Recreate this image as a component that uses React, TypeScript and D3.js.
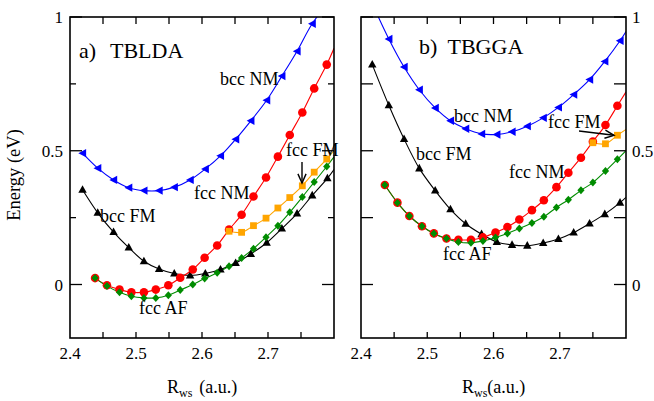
import React from 'react';
import * as d3 from 'd3';

const W = 654;
const H = 401;
const FONT = "'Liberation Serif', 'Times New Roman', serif";

// ---------- shared axis data ----------
const R_DOMAIN = [2.4, 2.8];
const E_DOMAIN = [-0.2, 1];
const R_END = 2.8;
const xTickLabels = [2.4, 2.5, 2.6, 2.7];
const xTickAll = [2.45, 2.5, 2.55, 2.6, 2.65, 2.7, 2.75];
const yTickMajor = [0, 0.5, 1];
const yTickMinor = [0.25, 0.75];
const yTickLabels = ['0', '0.5', '1'];

// ---------- a) TBLDA ----------
const ldaBccR = [2.419, 2.442, 2.466, 2.489, 2.512, 2.535, 2.558, 2.582, 2.605, 2.628, 2.651, 2.674, 2.698, 2.721, 2.744, 2.767, 2.790];
const ldaBccNM = [0.491, 0.435, 0.391, 0.362, 0.351, 0.351, 0.364, 0.391, 0.432, 0.481, 0.543, 0.612, 0.689, 0.779, 0.872, 0.975];
const ldaBccFM = [0.354, 0.268, 0.196, 0.138, 0.087, 0.058, 0.041, 0.034, 0.041, 0.056, 0.080, 0.114, 0.156, 0.209, 0.265, 0.333, 0.397];
const ldaFccR = [2.438, 2.456, 2.475, 2.493, 2.512, 2.530, 2.549, 2.567, 2.586, 2.604, 2.623, 2.641, 2.660, 2.678, 2.697, 2.715, 2.733, 2.752, 2.770, 2.789];
const ldaFccNM = [0.024, -0.003, -0.019, -0.029, -0.029, -0.019, -0.003, 0.025, 0.056, 0.100, 0.146, 0.205, 0.261, 0.329, 0.400, 0.478, 0.559, 0.643, 0.733, 0.822];
const ldaFccAF = [0.024, -0.006, -0.029, -0.044, -0.050, -0.050, -0.040, -0.021, 0.000, 0.022, 0.044, 0.068, 0.099, 0.134, 0.177, 0.220, 0.270, 0.327, 0.383, 0.441];
const ldaFccFMR = [2.641, 2.660, 2.678, 2.697, 2.715, 2.733, 2.752, 2.770, 2.789];
const ldaFccFM = [0.199, 0.195, 0.220, 0.248, 0.286, 0.325, 0.369, 0.420, 0.469];
// curve values at R_END: bccNM, bccFM, fccNM, fccFM, fccAF
const ldaTailE = [1.08, 0.43, 0.883, 0.5, 0.477];

// ---------- b) TBGGA ----------
const ggaBccR = [2.417, 2.442, 2.465, 2.488, 2.512, 2.535, 2.558, 2.582, 2.605, 2.628, 2.651, 2.675, 2.698, 2.721, 2.745, 2.768, 2.791];
const ggaBccNM = [1.05, 0.918, 0.813, 0.728, 0.660, 0.612, 0.582, 0.563, 0.561, 0.571, 0.592, 0.623, 0.662, 0.710, 0.766, 0.834, 0.911];
const ggaBccFM = [0.822, 0.670, 0.544, 0.434, 0.351, 0.281, 0.227, 0.188, 0.159, 0.148, 0.145, 0.155, 0.170, 0.194, 0.228, 0.263, 0.306];
const ggaFccR = [2.436, 2.455, 2.473, 2.492, 2.510, 2.529, 2.547, 2.566, 2.584, 2.603, 2.621, 2.639, 2.658, 2.676, 2.695, 2.713, 2.732, 2.750, 2.769, 2.787];
const ggaFccNM = [0.372, 0.306, 0.256, 0.218, 0.191, 0.172, 0.167, 0.167, 0.176, 0.194, 0.215, 0.243, 0.278, 0.315, 0.364, 0.418, 0.474, 0.534, 0.596, 0.668];
const ggaFccAF = [0.372, 0.306, 0.256, 0.218, 0.191, 0.172, 0.159, 0.156, 0.163, 0.176, 0.191, 0.209, 0.230, 0.253, 0.288, 0.317, 0.352, 0.381, 0.424, 0.468];
const ggaFccFMR = [2.750, 2.769, 2.787];
const ggaFccFM = [0.530, 0.526, 0.558];
const ggaTailE = [0.946, 0.326, 0.72, 0.58, 0.5];

const COLORS = { bccNM: '#0000ff', bccFM: '#000000', fccNM: '#ff0000', fccFM: '#ffa500', fccAF: '#008c00' };

type Marker = 'left' | 'up' | 'circle' | 'square' | 'diamond';

function markerPath(m: Marker): string | null {
  switch (m) {
    case 'left': return 'M-4.2,0L3.6,-4.2L3.6,4.2Z';
    case 'up': return 'M0,-4.6L4.2,3L-4.2,3Z';
    case 'square': return 'M-3.4,-3.4H3.4V3.4H-3.4Z';
    case 'diamond': return 'M0,-4L3.6,0L0,4L-3.6,0Z';
    default: return null;
  }
}

interface Series { key: string; R: number[]; E: number[]; tail: number; color: string; marker: Marker; }

function buildSeries(bccR: number[], bccNM: number[], bccFM: number[], fccR: number[], fccNM: number[], fccAF: number[], fmR: number[], fm: number[], tail: number[]): Series[] {
  return [
    { key: 'bccNM', R: bccR.slice(0, bccNM.length), E: bccNM, tail: tail[0], color: COLORS.bccNM, marker: 'left' },
    { key: 'bccFM', R: bccR, E: bccFM, tail: tail[1], color: COLORS.bccFM, marker: 'up' },
    { key: 'fccNM', R: fccR, E: fccNM, tail: tail[2], color: COLORS.fccNM, marker: 'circle' },
    { key: 'fccFM', R: fmR, E: fm, tail: tail[3], color: COLORS.fccFM, marker: 'square' },
    { key: 'fccAF', R: fccR, E: fccAF, tail: tail[4], color: COLORS.fccAF, marker: 'diamond' },
  ];
}

const TOP = 17;
const BOTTOM = 338;

interface Label { text: string; x: number; y: number; }

interface PanelProps {
  id: string;
  x0: number;
  x1: number;
  series: Series[];
  title: [string, number, number, number];
  titleName: string;
  labels: Label[];
  arrow: [number, number, number, number];
  yLabelSide: 'left' | 'right';
  minorLen: number;
  xTitleGap: number;
  xTitleX: number;
}

function Arrow({ a }: { a: [number, number, number, number] }) {
  const [x1, y1, x2, y2] = a;
  const ang = Math.atan2(y2 - y1, x2 - x1);
  const L = 10;
  const spread = 0.42;
  const p1 = [x2 - L * Math.cos(ang - spread), y2 - L * Math.sin(ang - spread)];
  const p2 = [x2 - L * Math.cos(ang + spread), y2 - L * Math.sin(ang + spread)];
  return (
    <g stroke="#000" strokeWidth={1.4} fill="none">
      <line x1={x1} y1={y1} x2={x2} y2={y2} />
      <path d={`M${p1[0]},${p1[1]}L${x2},${y2}L${p2[0]},${p2[1]}`} />
    </g>
  );
}

function Panel(p: PanelProps) {
  const x = d3.scaleLinear().domain(R_DOMAIN).range([p.x0, p.x1]);
  const y = d3.scaleLinear().domain(E_DOMAIN).range([BOTTOM, TOP]);
  const line = d3.line<[number, number]>().x(d => x(d[0])).y(d => y(d[1])).curve(d3.curveCatmullRom.alpha(0.5));
  const clipId = `clip-${p.id}`;
  const majorLen = 12;
  return (
    <g>
      <defs>
        <clipPath id={clipId}>
          <rect x={p.x0} y={TOP} width={p.x1 - p.x0} height={BOTTOM - TOP} />
        </clipPath>
      </defs>
      <g clipPath={`url(#${clipId})`}>
        {p.series.map(s => {
          const pts: [number, number][] = s.R.map((r, i) => [r, s.E[i]] as [number, number]);
          pts.push([R_END, s.tail]);
          return <path key={s.key + 'l'} d={line(pts) || ''} fill="none" stroke={s.color} strokeWidth={1.1} />;
        })}
        {p.series.map(s => (
          <g key={s.key + 'm'} fill={s.color}>
            {s.R.map((r, i) => {
              const mp = markerPath(s.marker);
              return mp
                ? <path key={i} d={mp} transform={`translate(${x(r)},${y(s.E[i])})`} />
                : <circle key={i} cx={x(r)} cy={y(s.E[i])} r={4.3} />;
            })}
          </g>
        ))}
      </g>
      <rect x={p.x0} y={TOP} width={p.x1 - p.x0} height={BOTTOM - TOP} fill="none" stroke="#000" strokeWidth={1.6} />
      {xTickAll.map(t => (
        <g key={'xt' + t} stroke="#000" strokeWidth={1.3}>
          <line x1={x(t)} x2={x(t)} y1={TOP} y2={TOP + 7} />
          <line x1={x(t)} x2={x(t)} y1={BOTTOM} y2={BOTTOM - 6} />
        </g>
      ))}
      {xTickLabels.map(t => (
        <text key={'xl' + t} x={x(t)} y={359} textAnchor="middle" fontSize={17} fontFamily={FONT}>{t.toFixed(1)}</text>
      ))}
      {yTickMajor.map(t => (
        <g key={'ytM' + t} stroke="#000" strokeWidth={1.3}>
          <line x1={p.x0} x2={p.x0 + majorLen} y1={y(t)} y2={y(t)} />
          <line x1={p.x1} x2={p.x1 - majorLen} y1={y(t)} y2={y(t)} />
        </g>
      ))}
      {yTickMinor.map(t => (
        <g key={'ytm' + t} stroke="#000" strokeWidth={1.3}>
          <line x1={p.x0} x2={p.x0 + p.minorLen} y1={y(t)} y2={y(t)} />
          <line x1={p.x1} x2={p.x1 - p.minorLen} y1={y(t)} y2={y(t)} />
        </g>
      ))}
      {yTickMajor.map((t, i) => (
        p.yLabelSide === 'left'
          ? <text key={'yl' + t} x={p.x0 - 7} y={y(t) + 6} textAnchor="end" fontSize={17} fontFamily={FONT}>{yTickLabels[i]}</text>
          : <text key={'yl' + t} x={p.x1 + 6} y={y(t) + 6} textAnchor="start" fontSize={17} fontFamily={FONT}>{yTickLabels[i]}</text>
      ))}
      <text x={p.xTitleX} y={393} fontSize={18} fontFamily={FONT}>
        <tspan>R</tspan>
        <tspan fontSize={12} dy={4}>ws</tspan>
        <tspan dy={-4} dx={p.xTitleGap}>(a.u.)</tspan>
      </text>
      <text x={p.title[1]} y={p.title[3]} fontSize={22} fontFamily={FONT}>{p.title[0]}</text>
      <text x={p.title[2]} y={p.title[3]} fontSize={22} fontFamily={FONT}>{p.titleName}</text>
      {p.labels.map(l => (
        <text key={l.text} x={l.x} y={l.y} fontSize={18} fontFamily={FONT}>{l.text}</text>
      ))}
      <Arrow a={p.arrow} />
    </g>
  );
}

export default function App() {
  const lda = buildSeries(ldaBccR, ldaBccNM, ldaBccFM, ldaFccR, ldaFccNM, ldaFccAF, ldaFccFMR, ldaFccFM, ldaTailE);
  const gga = buildSeries(ggaBccR, ggaBccNM, ggaBccFM, ggaFccR, ggaFccNM, ggaFccAF, ggaFccFMR, ggaFccFM, ggaTailE);
  return (
    <svg width={W} height={H} style={{ position: 'absolute', left: 0, top: 0, background: '#fff' }}>
      <rect width={W} height={H} fill="#fff" />
      <text transform="translate(20,175) rotate(-90)" textAnchor="middle" fontSize={18.5} fontFamily={FONT}>Energy (eV)</text>
      <Panel
        id="a" x0={70} x1={334} series={lda}
        title={['a)', 79, 110, 57.5]} titleName="TBLDA"
        labels={[
          { text: 'bcc NM', x: 220, y: 85 },
          { text: 'fcc NM', x: 194, y: 199 },
          { text: 'bcc FM', x: 100, y: 222 },
          { text: 'fcc AF', x: 139, y: 314 },
          { text: 'fcc FM', x: 286, y: 156 },
        ]}
        arrow={[302, 162, 302, 183]}
        yLabelSide="left" minorLen={6} xTitleGap={7} xTitleX={167}
      />
      <Panel
        id="b" x0={361} x1={626} series={gga}
        title={['b)', 419, 447.5, 54]} titleName="TBGGA"
        labels={[
          { text: 'bcc NM', x: 454, y: 121.5 },
          { text: 'bcc FM', x: 416, y: 160 },
          { text: 'fcc NM', x: 509, y: 178 },
          { text: 'fcc FM', x: 548, y: 128 },
          { text: 'fcc AF', x: 443, y: 260 },
        ]}
        arrow={[579, 131, 614, 135.3]}
        yLabelSide="right" minorLen={12} xTitleGap={0} xTitleX={462}
      />
    </svg>
  );
}
